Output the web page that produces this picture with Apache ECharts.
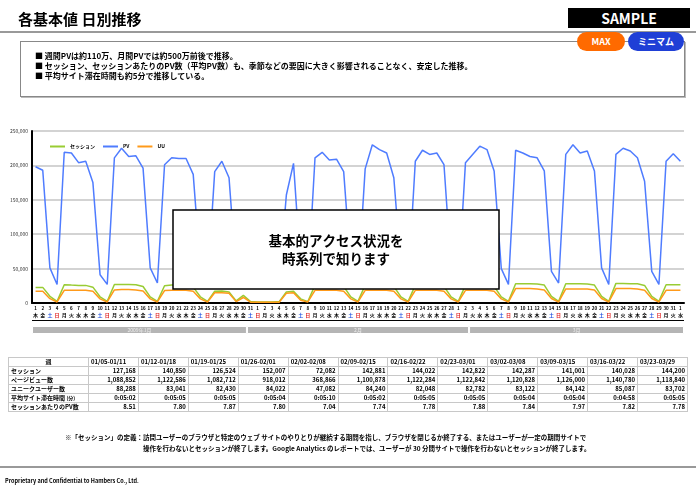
<!DOCTYPE html>
<html>
<head>
<meta charset="utf-8">
<script src="https://cdn.jsdelivr.net/npm/echarts@6/dist/echarts.min.js"></script>
<style>
body { margin: 0; background: #fff; font-family: "Noto Sans CJK JP", sans-serif; }
#page { position: relative; width: 696px; height: 487px; overflow: hidden; }
#main { position: absolute; left: 0; top: 0; width: 696px; height: 487px; }
.abs { position: absolute; white-space: nowrap; }
#title { left: 18px; top: 8px; font-size: 15px; font-weight: bold; }
#rule1 { left: 0; top: 31px; width: 696px; height: 2px; background: #999; }
#sample { left: 568px; top: 8px; width: 122px; height: 20px; background: #000; color: #fff;
  font: bold 14px "Noto Sans CJK JP"; text-align: center; line-height: 20px; }
#box { left: 20px; top: 41px; width: 663px; height: 54px; border: 1px solid #888; box-shadow: 1px 1px 0 #bbb; background: #fff; }
.pill { top: 32px; height: 19px; border-radius: 10px; color: #fff; font: bold 9px "Noto Sans CJK JP";
  text-align: center; line-height: 19px; }
#pmax { left: 577px; width: 48px; background: #ff6a00; }
#pmin { left: 628px; width: 56px; background: #1f3fd6; }
.bul { left: 35px; font-size: 8px; font-weight: bold; }
#tbl { left: 8px; top: 357px; border-collapse: collapse; width: 680px; table-layout: fixed; }
#tbl td { border: 1.5px solid #c8c8c8; font-size: 6px; font-weight: bold; height: 8px; line-height: 8px;
  padding: 0 2px; text-align: right; overflow: hidden; white-space: nowrap; }
#tbl td.lab { text-align: left; }
#tbl tr.hd td { text-align: left; }
#tbl tr.hd td.lab { text-align: center; }
.note { font-size: 6.5px; font-weight: bold; }
#rule2 { left: 0; top: 466px; width: 696px; height: 2px; background: #999; }
#foot { left: 5px; top: 477px; font-size: 5.5px; font-weight: bold; }
</style>
</head>
<body>
<div id="page">
  <div id="main"></div>
  <div class="abs" id="title">各基本値 日別推移</div>
  <div class="abs" id="rule1"></div>
  <div class="abs" id="sample">SAMPLE</div>
  <div class="abs" id="box"></div>
  <div class="abs pill" id="pmax">MAX</div>
  <div class="abs pill" id="pmin">ミニマム</div>
  <div class="abs bul" style="top:50px">■ 週間PVは約110万、月間PVでは約500万前後で推移。</div>
  <div class="abs bul" style="top:60px">■ セッション、セッションあたりのPV数（平均PV数）も、季節などの要因に大きく影響されることなく、安定した推移。</div>
  <div class="abs bul" style="top:70px">■ 平均サイト滞在時間も約5分で推移している。</div>
  <table class="abs" id="tbl"></table>
  <div class="abs note" style="left:65px;top:432px">※「セッション」の定義：</div>
  <div class="abs note" style="left:143px;top:432px">訪問ユーザーのブラウザと特定のウェブ サイトのやりとりが継続する期間を指し、ブラウザを閉じるか終了する、またはユーザーが一定の期間サイトで</div>
  <div class="abs note" style="left:143px;top:443px">操作を行わないとセッションが終了します。Google Analytics のレポートでは、ユーザーが 30 分間サイトで操作を行わないとセッションが終了します。</div>
  <div class="abs" id="rule2"></div>
  <div class="abs" id="foot">Proprietary and Confidential to Hambers Co., Ltd.</div>
</div>
<script>
// 日別データ (2009/01/01 - 2009/04/01)
var dayNums = [1,2,3,4,5,6,7,8,9,10,11,12,13,14,15,16,17,18,19,20,21,22,23,24,25,26,27,28,29,30,31,
  1,2,3,4,5,6,7,8,9,10,11,12,13,14,15,16,17,18,19,20,21,22,23,24,25,26,27,28,
  1,2,3,4,5,6,7,8,9,10,11,12,13,14,15,16,17,18,19,20,21,22,23,24,25,26,27,28,29,30,31,
  1];
var weekdays = '木金土日月火水木金土日月火水木金土日月火水木金土日月火水木金土日月火水木金土日月火水木金土日月火水木金土日月火水木金土日月火水木金土日月火水木金土日月火水木金土日月火水木金土日月火水'.split('');

var pageViews = [198000,193000,51000,27000,219000,218000,204000,206000,175000,41000,27000,
  211000,225000,213000,214000,196000,51000,29000,
  201000,211000,210000,210000,187000,50000,27000,
  191000,206000,182000,41000,60000,30000,25000,
  25000,25000,30000,157000,203000,50000,27000,
  211000,219000,208000,209000,191000,50000,27000,
  195000,230000,223000,218000,182000,50000,27000,
  206000,222000,216000,218000,201000,50000,27000,
  204000,216000,228000,223000,192000,50000,27000,
  222000,218000,213000,211000,192000,46000,29000,
  216000,230000,218000,221000,192000,51000,27000,
  216000,225000,221000,211000,177000,46000,27000,
  206000,217000,206000];

var sessions = [22700,22700,9700,2400,26600,26000,25600,25600,23000,9000,2400,
  27000,27000,27000,26500,24000,9000,2400,
  25000,26000,26000,26000,23000,9000,2400,
  17000,17500,16000,3000,11000,2000,1500,
  1500,1500,2000,16000,17000,6000,2000,
  26000,26500,26500,26000,24000,9000,2400,
  26000,27000,27000,26500,24000,9000,2400,
  26000,27000,27000,26500,24000,9000,2400,
  26000,27000,27000,26500,24000,9000,2400,
  28000,28000,28000,27500,26000,9500,2400,
  28000,28000,28000,27500,26000,9500,2400,
  28500,28500,28000,28000,25500,9500,2400,
  26600,26600,26600];

var users = [17000,17000,6300,1500,18400,18400,18400,18400,17000,6000,1500,
  19000,19500,19500,19000,17500,6000,1500,
  18000,18400,18400,18400,17000,6000,1500,
  15000,15000,14000,2000,8000,1200,1000,
  1000,1000,1200,14000,15000,4000,1500,
  18400,18400,18400,18400,17000,6000,1500,
  18400,18400,18400,18400,17000,6000,1500,
  18400,18400,18400,18400,17000,6000,1500,
  18400,18400,18400,18400,17000,6000,1500,
  21000,21000,21000,20500,19000,6500,1500,
  20500,20500,20500,20500,19000,6500,1500,
  21000,21000,21000,20500,18500,6500,1500,
  18400,18400,18400];

// 月の帯
var monthNames = ['2009年1月', '2月', '3月'];
var monthSpans = [30, 31, 30];

// 週別の表
var weeks = ['01/05-01/11','01/12-01/18','01/19-01/25','01/26-02/01','02/02-02/08','02/09-02/15',
  '02/16-02/22','02/23-03/01','03/02-03/08','03/09-03/15','03/16-03/22','03/23-03/29'];
var weekSessions = [127168,140850,126524,152007,72082,142881,144022,142822,142287,141001,140028,144200];
var weekPV = [1088852,1122586,1082712,918012,368866,1100878,1122284,1122842,1120828,1126000,1140780,1118840];
var weekUU = [88288,83041,82430,84022,47082,84240,82048,82782,83122,84142,85087,83702];
var weekTime = ['0:05:02','0:05:05','0:05:05','0:05:04','0:05:10','0:05:02','0:05:05','0:05:05','0:05:04','0:05:04','0:04:58','0:05:05'];
var weekPvPerSession = [8.51,7.80,7.87,7.80,7.04,7.74,7.78,7.88,7.84,7.97,7.82,7.78];

// 表を作る
var tbl = document.getElementById('tbl');
var html = '<colgroup><col style="width:80px">';
for (var i = 0; i < weeks.length; i++) html += '<col>';
html += '</colgroup><tr class="hd"><td class="lab">週</td>';
weeks.forEach(function (w) { html += '<td>' + w + '</td>'; });
html += '</tr>';
function fmt(n) { return n.toLocaleString('en-US'); }
var rows = [
  ['セッション', weekSessions.map(fmt)],
  ['ページビュー数', weekPV.map(fmt)],
  ['ユニークユーザー数', weekUU.map(fmt)],
  ['平均サイト滞在時間 <span style="font-size:5px">(分)</span>', weekTime],
  ['セッションあたりのPV数', weekPvPerSession.map(function (v) { return v.toFixed(2); })]
];
rows.forEach(function (r) {
  html += '<tr><td class="lab">' + r[0] + '</td>';
  r[1].forEach(function (v) { html += '<td>' + v + '</td>'; });
  html += '</tr>';
});
tbl.innerHTML = html;

var myChart = echarts.init(document.getElementById('main'));

// 月の帯は積み上げ横棒で描く
var monthSeries = monthSpans.map(function (span, i) {
  return {
    name: monthNames[i],
    type: 'bar',
    xAxisIndex: 1,
    yAxisIndex: 1,
    stack: 'month',
    barWidth: '100%',
    data: [span],
    itemStyle: { color: '#b5b5b5', borderColor: '#fff', borderWidth: 1 },
    label: { show: true, position: 'inside', formatter: monthNames[i], fontSize: 5, color: '#eee' },
    silent: true
  };
});

var option = {
  animation: false,
  textStyle: { fontFamily: 'Noto Sans CJK JP' },
  legend: {
    left: 45, top: 139,
    icon: 'rect',
    itemWidth: 15, itemHeight: 2, itemGap: 8,
    textStyle: { fontSize: 5, fontWeight: 'bold', color: '#000' },
    data: ['セッション', 'PV', 'UU']
  },
  grid: [
    { left: 32, top: 131, width: 652, height: 172 },
    { left: 32, top: 326, width: 652, height: 8 }
  ],
  xAxis: [
    {
      type: 'category', gridIndex: 0, data: dayNums, boundaryGap: true,
      axisLine: { lineStyle: { color: '#000', width: 2 } },
      axisTick: { interval: 0, length: 17, lineStyle: { color: '#000', width: 1 } },
      axisLabel: {
        interval: 0, margin: 2, hideOverlap: false,
        formatter: function (v, idx) {
          var w = weekdays[idx];
          var st = w === '土' ? 'sat' : (w === '日' ? 'sun' : 'wd');
          return '{d|' + v + '}\n{' + st + '|' + w + '}';
        },
        rich: {
          d: { fontSize: 4.5, fontWeight: 'bold', color: '#000', lineHeight: 7 },
          wd: { fontSize: 5, fontWeight: 'bold', color: '#000', lineHeight: 7 },
          sat: { fontSize: 5, fontWeight: 'bold', color: '#1f4fe0', lineHeight: 7 },
          sun: { fontSize: 5, fontWeight: 'bold', color: '#e02020', lineHeight: 7 }
        }
      }
    },
    { type: 'value', gridIndex: 1, min: 0, max: 91, show: false }
  ],
  yAxis: [
    {
      type: 'value', gridIndex: 0, min: 0, max: 250000, interval: 50000,
      axisLine: { show: true, lineStyle: { color: '#000', width: 2 } },
      axisTick: { show: false },
      splitLine: { lineStyle: { color: '#c4c4c4', width: 1.5 } },
      axisLabel: { fontSize: 5, color: '#333', margin: 4 }
    },
    { type: 'category', gridIndex: 1, data: ['月'], show: false }
  ],
  series: [
    {
      name: 'PV', type: 'line', data: pageViews, symbol: 'none',
      lineStyle: { color: '#4f7cff', width: 1.5 }, itemStyle: { color: '#4f7cff' }
    },
    {
      name: 'セッション', type: 'line', data: sessions, symbol: 'none',
      lineStyle: { color: '#99cc33', width: 1.5 }, itemStyle: { color: '#99cc33' }
    },
    {
      name: 'UU', type: 'line', data: users, symbol: 'none',
      lineStyle: { color: '#ff9a1a', width: 1.5 }, itemStyle: { color: '#ff9a1a' }
    }
  ].concat(monthSeries),
  graphic: [
    {
      type: 'line', z: 50,
      shape: { x1: 32, y1: 320.5, x2: 684, y2: 320.5 },
      style: { stroke: '#000', lineWidth: 1 }
    },
    {
      type: 'rect', z: 100,
      shape: { x: 173, y: 210, width: 326, height: 79 },
      style: { fill: '#fff', stroke: '#000', lineWidth: 1.5 }
    },
    {
      type: 'text', z: 101, x: 336, y: 232,
      style: {
        text: '基本的アクセス状況を\n時系列で知ります',
        align: 'center',
        fontSize: 13.5, fontWeight: 'bold', fontFamily: 'Noto Sans CJK JP',
        lineHeight: 18, fill: '#000'
      }
    }
  ]
};

myChart.setOption(option);
</script>
</body>
</html>
